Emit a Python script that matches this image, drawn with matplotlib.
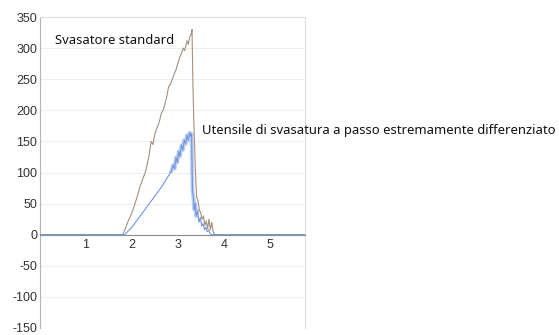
import matplotlib
matplotlib.use("Agg")
import matplotlib.pyplot as plt

plt.rcParams["axes.unicode_minus"] = False

# Standard countersink: force curve
std_x = [0.0, 1.80, 1.86, 1.92, 2.00, 2.06, 2.12, 2.18, 2.24, 2.30, 2.34, 2.38, 2.42, 2.46,
         2.50, 2.55, 2.60, 2.64, 2.68, 2.72, 2.76, 2.80, 2.84, 2.88, 2.92, 2.96, 3.00,
         3.04, 3.08, 3.12, 3.15, 3.18, 3.20, 3.23, 3.26, 3.29, 3.31, 3.33, 3.35, 3.38,
         3.41, 3.44, 3.47, 3.50, 3.53, 3.56, 3.59, 3.62, 3.65, 3.68, 3.71, 3.74, 3.77,
         3.80, 5.77]
std_y = [0, 0, 10, 22, 35, 48, 62, 78, 90, 102, 115, 130, 150, 145,
         162, 172, 182, 195, 200, 210, 222, 238, 242, 250, 258, 265, 275,
         285, 292, 300, 296, 305, 312, 306, 318, 322, 330, 240, 180, 110,
         60, 55, 40, 35, 25, 30, 15, 22, 10, 25, 8, 20, 5,
         0, 0]

# Stepped countersinking tool: force curve
step_x = [0.0, 1.84, 1.92, 2.00, 2.10, 2.20, 2.30, 2.40, 2.50, 2.60, 2.70, 2.80, 2.86,
          2.90, 2.93, 2.96, 2.99, 3.02, 3.05, 3.08, 3.11, 3.14, 3.17, 3.20, 3.23, 3.26,
          3.28, 3.30, 3.32, 3.34, 3.36, 3.38, 3.40, 3.43, 3.46, 3.49, 3.52, 3.55, 3.58,
          3.61, 3.64, 3.67, 3.70, 3.73, 5.77]
step_y = [0, 0, 6, 12, 22, 32, 42, 52, 62, 72, 83, 95, 102,
          112, 106, 124, 116, 134, 126, 144, 136, 152, 146, 160, 152, 164,
          158, 162, 70, 60, 40, 50, 30, 38, 20, 28, 14, 18, 8, 12,
          5, 8, 2, 0, 0]

x_ticks = [1, 2, 3, 4, 5]
y_ticks = [-150, -100, -50, 0, 50, 100, 150, 200, 250, 300, 350]

fig = plt.figure(figsize=(5.59, 3.35), dpi=100)
ax = fig.add_axes([40 / 559, 1 - 328 / 335, 265 / 559, 311 / 335])

# jagged, wider band where the stepped tool cuts with all steps
band = slice(12, 34)
ax.plot(step_x[band], step_y[band], color="#a9c0ee", lw=2.8, alpha=0.75, zorder=2)
ax.plot(std_x, std_y, color="#a58f80", lw=0.8, zorder=3)
ax.plot(step_x, step_y, color="#7096dc", lw=0.8, zorder=3)

ax.set_xlim(0, 5.77)
ax.set_ylim(-150, 350)
ax.set_yticks(y_ticks)
ax.set_xticks(x_ticks)
ax.set_xticklabels([str(t) for t in x_ticks])

for v in y_ticks:
    ax.axhline(v, color="#eeeeee", lw=0.8, zorder=0)

ax.spines["bottom"].set_position(("data", 0))
ax.spines["bottom"].set_color("#8a8a8a")
ax.spines["left"].set_color("#b5b5b5")
for s in ("top", "right"):
    ax.spines[s].set_color("#dddddd")
for s in ax.spines.values():
    s.set_linewidth(0.8)

ax.tick_params(axis="both", length=0, labelsize=9, colors="#333333",
               labelfontfamily="Liberation Sans")
ax.tick_params(axis="x", pad=3)
ax.tick_params(axis="y", pad=2)

ax.text(0.33, 313, "Svasatore standard", fontsize=9.4, family="Noto Sans",
        color="#111111", va="center", ha="left")
ax.text(3.52, 168, "Utensile di svasatura a passo estremamente differenziato",
        fontsize=9.4, family="Noto Sans", color="#111111", va="center", ha="left",
        clip_on=False)

fig.savefig("out.png", dpi=100)
